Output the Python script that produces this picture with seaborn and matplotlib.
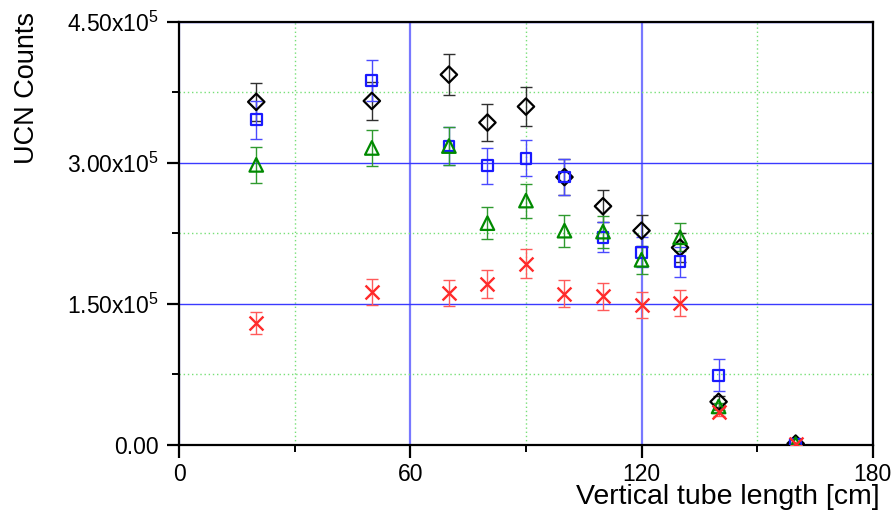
import numpy as np
import pandas as pd
import matplotlib
matplotlib.use("Agg")
import matplotlib.pyplot as plt
from matplotlib.ticker import FixedLocator
import seaborn as sns

# ---- data ----
x_cm = [20, 50, 70, 80, 90, 100, 110, 120, 130, 140, 160]

diamond = [3.65e5, 3.66e5, 3.94e5, 3.43e5, 3.60e5, 2.85e5, 2.54e5, 2.28e5, 2.10e5, 0.46e5, 0.015e5]
diamond_err = [0.20e5, 0.20e5, 0.22e5, 0.20e5, 0.21e5, 0.19e5, 0.17e5, 0.17e5, 0.15e5, 0.06e5, 0.01e5]

square = [3.46e5, 3.88e5, 3.18e5, 2.97e5, 3.05e5, 2.85e5, 2.21e5, 2.05e5, 1.95e5, 0.74e5, 0.01e5]
square_err = [0.20e5, 0.22e5, 0.20e5, 0.19e5, 0.19e5, 0.19e5, 0.16e5, 0.16e5, 0.16e5, 0.17e5, 0.01e5]

triangle = [2.98e5, 3.16e5, 3.18e5, 2.36e5, 2.60e5, 2.28e5, 2.27e5, 1.97e5, 2.21e5, 0.41e5, 0.01e5]
triangle_err = [0.19e5, 0.19e5, 0.20e5, 0.17e5, 0.18e5, 0.17e5, 0.17e5, 0.15e5, 0.15e5, 0.04e5, 0.01e5]

cross = [1.30e5, 1.63e5, 1.62e5, 1.71e5, 1.93e5, 1.61e5, 1.58e5, 1.49e5, 1.51e5, 0.35e5, 0.01e5]
cross_err = [0.12e5, 0.14e5, 0.14e5, 0.15e5, 0.15e5, 0.14e5, 0.14e5, 0.14e5, 0.14e5, 0.04e5, 0.01e5]

xticks = [0, 60, 120, 180]
xtick_labels = ["0", "60", "120", "180"]
yticks = [0, 1.5e5, 3.0e5, 4.5e5]
ytick_labels = ["0.00", r"1.50x10$^{5}$", r"3.00x10$^{5}$", r"4.50x10$^{5}$"]
xminor = [30, 90, 150]
yminor = [0.75e5, 2.25e5, 3.75e5]

# ---- style ----
sns.set_style("white")
plt.rcParams["font.family"] = ["Liberation Sans", "DejaVu Sans"]
plt.rcParams["mathtext.fontset"] = "custom"
plt.rcParams["mathtext.rm"] = "Liberation Sans"
plt.rcParams["mathtext.it"] = "Liberation Sans"
plt.rcParams["text.color"] = "black"
plt.rcParams["axes.labelcolor"] = "black"
plt.rcParams["xtick.color"] = "black"
plt.rcParams["ytick.color"] = "black"

fig = plt.figure(figsize=(8.96, 5.16), dpi=100)
ax = fig.add_axes([0.2, 0.1376, 0.774, 0.8198])

series = [
    ("diamond", diamond, diamond_err, "D", "black", "#303030", 70),
    ("square", square, square_err, "s", "#1a1aff", "#4a4aff", 60),
    ("triangle", triangle, triangle_err, "^", "#008a00", "#2f9a2f", 95),
    ("cross", cross, cross_err, "x", "#ff2a2a", "#ff5a5a", 100),
]

for name, vals, errs, mk, col, ecol, size in series:
    df = pd.DataFrame({"x": x_cm, "y": vals, "e": errs})
    ax.errorbar(df["x"], df["y"], yerr=df["e"], fmt="none", ecolor=ecol,
                elinewidth=1.0, capsize=4.5, capthick=1.0, zorder=3)
    if mk == "x":
        sns.scatterplot(data=df, x="x", y="y", marker=mk, color=col, s=size,
                        linewidth=1.7, ax=ax, zorder=4, legend=False)
    else:
        sns.scatterplot(data=df, x="x", y="y", marker=mk, facecolor="none",
                        edgecolor=col, s=size, linewidth=1.6, ax=ax, zorder=4,
                        legend=False)

ax.set_xlim(0, 180)
ax.set_ylim(0, 4.5e5)
ax.xaxis.set_major_locator(FixedLocator(xticks))
ax.set_xticklabels(xtick_labels)
ax.xaxis.set_minor_locator(FixedLocator(xminor))
ax.yaxis.set_major_locator(FixedLocator(yticks))
ax.set_yticklabels(ytick_labels)
ax.yaxis.set_minor_locator(FixedLocator(yminor))

ax.grid(True, which="major", axis="x", color="#7878ff", linewidth=1.6, linestyle="-", zorder=1)
ax.grid(True, which="major", axis="y", color="#3a3aff", linewidth=1.0, linestyle="-", zorder=1)
ax.grid(True, which="minor", color="#77e077", linewidth=1.0, linestyle=(0, (1, 2)), zorder=1)
ax.set_axisbelow(True)

for sp in ax.spines.values():
    sp.set_color("black")
    sp.set_linewidth(1.6)
    sp.set_visible(True)

ax.tick_params(axis="both", which="major", direction="out", length=9, width=1.6,
               color="black", labelcolor="black", labelsize=16.5, pad=4,
               bottom=True, left=True)
ax.tick_params(axis="both", which="minor", direction="out", length=5, width=1.4,
               color="black", bottom=True, left=True)
ax.tick_params(axis="y", which="major", pad=6)

ax.set_xlabel("")
ax.set_ylabel("")
fig.text(880 / 896, 1 - 497 / 516, "Vertical tube length [cm]", ha="right",
         va="center", fontsize=20.5, color="black")
fig.text(27 / 896, 1 - 88 / 516, "UCN Counts", ha="center", va="center",
         rotation=90, fontsize=19.5, color="black")

fig.savefig("out.png", dpi=100)
